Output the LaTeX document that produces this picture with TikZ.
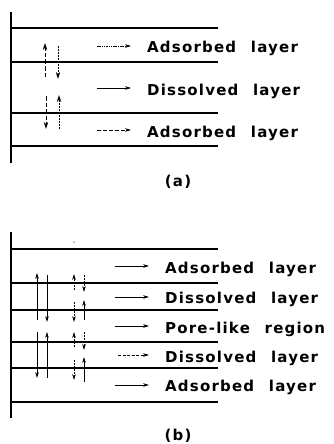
\documentclass[tikz,border=0pt]{standalone}
\usepackage{fontspec}
\setmainfont{DejaVu Sans}[LetterSpace=8,WordSpace=2.3]
\usetikzlibrary{arrows.meta}
\begin{document}
\begin{tikzpicture}[x=1pt,y=-1pt,
  wall/.style={line width=1.6pt},
  layer/.style={line width=1.5pt},
  flux/.style={line width=0.75pt,-{Stealth[length=6pt,width=3.6pt]}},
  bigflux/.style={line width=0.9pt,-{Stealth[length=7pt,width=4.4pt]}},
  pointer/.style={line width=0.75pt,-{Stealth[length=6pt,width=3.6pt]}},
  fine/.style={dash pattern=on 2pt off 1pt},
  broken/.style={dash pattern=on 4.5pt off 2pt},
  lbl/.style={anchor=base west,inner sep=0pt,font=\fontsize{15}{18}\selectfont\bfseries},
  tag/.style={anchor=base,inner sep=0pt,font=\fontsize{15}{18}\selectfont\bfseries}]
\useasboundingbox (0,0) rectangle (333,444);

% ---------- (a) three-layer membrane ----------
\draw[wall] (11,12) -- (11,163);
\foreach \y in {28,62,113,146} \draw[layer] (11,\y) -- (218,\y);

\node[lbl] (a1) at (147,52.5) {Adsorbed layer};
\node[lbl] (a2) at (147,95) {Dissolved layer};
\node[lbl] (a3) at (147,137) {Adsorbed layer};
\node[tag] (acap) at (178,186) {(a)};

\coordinate (pa1s) at (97,46);  \coordinate (pa1e) at (131,46);
\coordinate (pa2s) at (97,88);  \coordinate (pa2e) at (131,88);
\coordinate (pa3s) at (97,130); \coordinate (pa3e) at (131,130);
\draw[pointer,dash pattern=on 1.5pt off 0.8pt] (pa1s) -- (pa1e);
\draw[pointer] (pa2s) -- (pa2e);
\draw[pointer,dash pattern=on 4pt off 2pt] (pa3s) -- (pa3e);

% transport between adsorbed and dissolved layers
\coordinate (va1b) at (45,77);  \coordinate (va1t) at (45,43);
\coordinate (va2t) at (58,46);  \coordinate (va2b) at (58,79);
\coordinate (va3t) at (46,96);  \coordinate (va3b) at (46,129);
\coordinate (va4b) at (59,129); \coordinate (va4t) at (59,95);
\draw[bigflux,broken] (va1b) -- (va1t);
\draw[bigflux,fine] (va2t) -- (va2b);
\draw[bigflux,broken] (va3t) -- (va3b);
\draw[bigflux,fine] (va4b) -- (va4t);

% ---------- (b) five-layer membrane ----------
\draw[wall] (11,232) -- (11,418);
\foreach \y in {249,283,310,342,368,402} \draw[layer] (11,\y) -- (218,\y);
\fill (74,242) circle (0.6);

\node[lbl] (b1) at (165,273) {Adsorbed layer};
\node[lbl] (b2) at (165,303) {Dissolved layer};
\node[lbl] (b3) at (165,333) {Pore-like region};
\node[lbl] (b4) at (165,362) {Dissolved layer};
\node[lbl] (b5) at (165,391) {Adsorbed layer};
\node[tag] (bcap) at (178,440) {(b)};

\coordinate (pb1s) at (115,266); \coordinate (pb1e) at (149,266);
\coordinate (pb2s) at (115,297); \coordinate (pb2e) at (149,297);
\coordinate (pb3s) at (115,326); \coordinate (pb3e) at (149,326);
\coordinate (pb4s) at (118,355); \coordinate (pb4e) at (149,355);
\coordinate (pb5s) at (115,385); \coordinate (pb5e) at (149,385);
\draw[pointer] (pb1s) -- (pb1e);
\draw[pointer] (pb2s) -- (pb2e);
\draw[pointer] (pb3s) -- (pb3e);
\draw[pointer,dash pattern=on 3pt off 1.5pt] (pb4s) -- (pb4e);
\draw[pointer] (pb5s) -- (pb5e);

% long paths across the pore-like region
\coordinate (l1b) at (37,320); \coordinate (l1t) at (37,273);
\coordinate (l2t) at (47,275); \coordinate (l2b) at (47,322);
\coordinate (l3t) at (37,332); \coordinate (l3b) at (37,378);
\coordinate (l4b) at (47,378); \coordinate (l4t) at (47,332);
\draw[flux] (l1b) -- (l1t);
\draw[flux] (l2t) -- (l2b);
\draw[flux] (l3t) -- (l3b);
\draw[flux] (l4b) -- (l4t);

% short exchanges between neighbouring layers
\coordinate (s1b) at (74,290); \coordinate (s1t) at (74,274);
\coordinate (s2t) at (74,302); \coordinate (s2b) at (74,322);
\coordinate (s3b) at (74,347); \coordinate (s3t) at (74,332);
\coordinate (s4t) at (74,360); \coordinate (s4b) at (74,380);
\draw[flux,fine] (s1b) -- (s1t);
\draw[flux,fine] (s2t) -- (s2b);
\draw[flux,fine] (s3b) -- (s3t);
\draw[flux,fine] (s4t) -- (s4b);

\coordinate (r1t) at (84,275); \coordinate (r1b) at (84,292);
\coordinate (r2b) at (84,320); \coordinate (r2t) at (84,300);
\coordinate (r3t) at (84,332); \coordinate (r3b) at (84,350);
\coordinate (r4b) at (84,382); \coordinate (r4t) at (84,357);
\draw[flux,fine] (r1t) -- (r1b);
\draw[flux] (r2b) -- (r2t);
\draw[flux,fine] (r3t) -- (r3b);
\draw[flux] (r4b) -- (r4t);
\end{tikzpicture}
\end{document}
